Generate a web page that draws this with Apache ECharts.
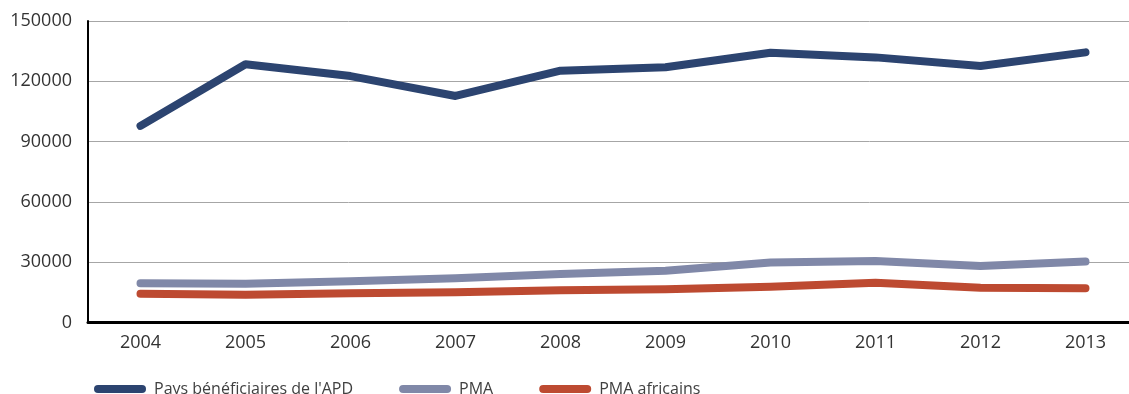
<!DOCTYPE html>
<html>
<head>
<meta charset="utf-8">
<script src="https://cdn.jsdelivr.net/npm/echarts@6/dist/echarts.min.js"></script>
<style>
  html, body { margin: 0; padding: 0; background: #fff; }
  #chart { width: 1129px; height: 394px; }
</style>
</head>
<body>
<div id="chart"></div>
<script>
// Years shown on the category axis
const years = ['2004', '2005', '2006', '2007', '2008', '2009', '2010', '2011', '2012', '2013'];

// Series values
const apd = [97800, 128500, 122600, 112700, 125300, 127000, 134200, 131900, 127600, 134400];
const pma = [19500, 19300, 20500, 22000, 24100, 25800, 29800, 30600, 28100, 30300];
const pmaAfricains = [14300, 13800, 14500, 15000, 16000, 16500, 17800, 19800, 17300, 17000];

// Series names used in the legend
const seriesNames = ["Pays bénéficiaires de l'APD", 'PMA', 'PMA africains'];
const seriesColors = ['#2C4470', '#8088A8', '#BD4A31'];
const seriesData = [apd, pma, pmaAfricains];

const FONT = '"Open Sans", "Noto Sans", sans-serif';

const chart = echarts.init(document.getElementById('chart'), null, { renderer: 'canvas' });

chart.setOption({
  animation: false,
  backgroundColor: '#ffffff',
  // plot runs a little past the right edge of the canvas
  grid: {
    left: 88, width: 1050, top: 21, bottom: 71.5,
    containLabel: false, outerBoundsMode: 'none'
  },
  legend: {
    left: 89,
    top: 376,
    itemWidth: 52,
    itemHeight: 8,
    itemGap: 46,
    // pill-shaped swatch with fully rounded ends
    icon: 'path://M4,0 L48,0 A4,4 0 0 1 48,8 L4,8 A4,4 0 0 1 4,0 Z',
    textStyle: { fontFamily: FONT, fontSize: 16, color: '#404040', padding: [0, 0, 0, 3] },
    data: seriesNames
  },
  xAxis: {
    type: 'category',
    data: years,
    boundaryGap: true,
    axisLine: { show: true, lineStyle: { color: '#000', width: 3 } },
    axisTick: { show: false },
    axisLabel: { fontFamily: FONT, fontSize: 18, color: '#333', margin: 11 },
    splitLine: { show: false }
  },
  yAxis: {
    type: 'value',
    min: 0,
    max: 150000,
    interval: 30000,
    axisLine: { show: true, lineStyle: { color: '#000', width: 2 } },
    axisTick: { show: false },
    axisLabel: {
      fontFamily: FONT, fontSize: 18, color: '#333', margin: 16,
      formatter: (v) => String(v)
    },
    splitLine: { show: true, lineStyle: { color: '#a6a6a6', width: 1 } }
  },
  series: seriesNames.map((name, i) => ({
    name: name,
    type: 'line',
    data: seriesData[i],
    symbol: 'none',
    smooth: false,
    color: seriesColors[i],
    z: 10 - i,
    lineStyle: { width: 8, color: seriesColors[i], cap: 'round', join: 'round' },
    emphasis: { disabled: true }
  }))
});
</script>
</body>
</html>
